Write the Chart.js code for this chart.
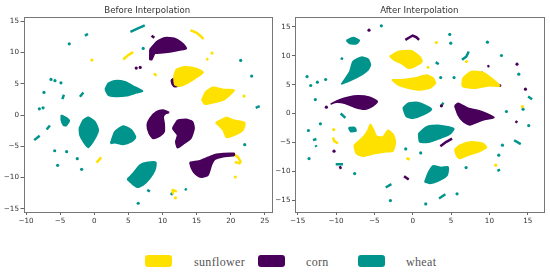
<!DOCTYPE html>
<html>
<head>
<meta charset="utf-8">
<script src="https://cdn.jsdelivr.net/npm/chart.js@4"></script>
<style>
html,body{margin:0;padding:0;background:#fff;width:550px;height:274px;overflow:hidden}
canvas{position:absolute;top:0}
#a{left:0}#b{left:275px}
.sw{position:absolute;top:255px;width:27px;height:12px;border-radius:3px}
.lb{position:absolute;top:254px;font:12px/16px "Liberation Serif",serif;letter-spacing:.35px;color:#555}
</style>
</head>
<body>
<div style="position:absolute;left:0;top:0;width:275px;height:232px"><canvas id="a" width="275" height="232"></canvas></div>
<div style="position:absolute;left:275px;top:0;width:275px;height:232px"><canvas id="c" width="275" height="232"></canvas></div>
<div id="legend"></div>
<script>
const classNames = ["sunflower", "corn", "wheat"];
const classColors = ["#ffe100", "#48005a", "#00948c"];
const legendBoxX = [145, 258, 358];
const legendTextX = [194, 306, 406];

const beforeXTicks = [-10, -5, 0, 5, 10, 15, 20, 25];
const beforeYTicks = [-15, -10, -5, 0, 5, 10, 15];
const afterXTicks = [-15, -10, -5, 0, 5, 10, 15];
const afterYTicks = [-15, -10, -5, 0, 5, 10, 15];

/* ---------- Before interpolation: filled clusters (outlines) ---------- */
const beforeSunflowerShapes = [
 [[11.66,6.24],[12.05,7.3],[13.27,7.73],[14.98,7.47],[15.95,6.83],[14.98,6.03],[13.76,5.17],[12.54,4.64],[11.8,4.9]],
 [[15.76,2.4],[16.34,3.73],[17.41,4.43],[18.88,4.1],[20.49,4.0],[19.85,3.2],[18.88,2.4],[17.41,1.97],[16.2,1.76]],
 [[17.8,-1.22],[19.37,-0.37],[20.34,-0.8],[22.05,-1.22],[21.8,-2.39],[20.59,-3.19],[19.37,-3.56],[18.88,-2.39]]
];
const beforeCornShapes = [
 [[8.15,10.5],[9.12,11.73],[10.34,12.37],[11.8,12.27],[12.93,11.47],[13.5,10.67],[12.54,10.4],[11.3,10.13],[10.1,9.97],[8.88,9.87],[8.44,8.9],[8.15,8.9],[8.15,9.87]],
 [[11.27,5.6],[11.66,5.87],[12.05,5.07],[12.54,4.75],[11.8,4.53],[11.41,4.96]],
 [[10.98,0.43],[10.1,0.8],[9.12,0.53],[8.15,-0.53],[7.76,-1.6],[8.05,-2.93],[8.63,-3.72],[9.61,-3.35],[10.24,-2.66],[10.24,-1.33],[10.1,-0.27],[10.49,0.27]],
 [[12.2,-0.8],[13.41,-0.69],[14.39,-1.06],[14.63,-2.13],[14.15,-3.72],[13.17,-4.52],[12.2,-5.2],[11.95,-4.25],[12.2,-3.19],[11.51,-2.13]],
 [[14.0,-7.55],[15.46,-7.29],[16.68,-6.76],[17.9,-6.28],[20.49,-6.12],[20.49,-6.44],[18.88,-6.65],[17.66,-7.07],[17.17,-7.98],[16.68,-9.57],[15.7,-9.95],[14.73,-9.31],[14.24,-8.5]]
];
const beforeWheatShapes = [
 [[1.6,4.1],[2.05,5.07],[3.02,5.5],[4.5,5.33],[5.7,4.64],[7.07,3.84],[6.2,3.57],[4.73,3.09],[3.02,2.99],[2.05,3.2]],
 [[4.83,-10.27],[5.7,-9.3],[6.68,-8.0],[7.66,-7.6],[9.02,-7.55],[8.88,-8.78],[8.15,-10.1],[7.17,-11.17],[6.29,-11.54],[5.46,-10.9]],
 [[2.39,-4.52],[3.02,-2.66],[4.24,-1.76],[5.46,-2.39],[6.05,-3.56],[5.46,-4.25],[4.24,-4.68],[3.02,-4.41]],
 [[-2.2,-2.13],[-1.6,-0.8],[-0.88,-0.37],[0.1,-1.06],[0.59,-2.39],[0.1,-3.72],[-0.88,-5.16],[-1.6,-4.25],[-2.1,-3.19]],
 [[-4.83,0],[-4.15,-0.37],[-3.66,-0.9],[-4.15,-1.7],[-4.54,-1.6],[-4.83,-0.8]]
];
/* thin elongated clusters */
const beforeSunflowerStreaks = [
 [[14.1,13.6],[15.0,13.17],[15.7,12.53],[16.0,12.16]],
 [[4.24,8.9],[4.98,9.6],[5.7,10.08]],
 [[16.44,9.07],[16.68,8.8]],
 [[8.73,6.67],[9.12,6.3]],
 [[0.34,-7.6],[1.02,-6.76]],
 [[20.49,-6.28],[21.07,-6.76],[21.45,-7.45],[21.3,-7.7],[20.6,-7.5]],
 [[11.4,-12.5],[11.5,-11.97],[12.1,-12.25]]
];
const beforeCornStreaks = [
 [[8.4,12.7],[8.8,12.37]]
];
const beforeWheatStreaks = [
 [[5.3,13.33],[6.4,13.87],[7.4,14.35]],
 [[-1.37,12.7],[-0.93,13.0]],
 [[-4.68,2.56],[-4.44,3.25]],
 [[-2.1,2.93],[-1.6,3.63]],
 [[23.66,1.17],[24.24,1.44]],
 [[-6.98,-2.29],[-6.5,-1.65]],
 [[-8.8,-4.0],[-8.0,-3.3]],
 [[7.76,-11.97],[8.15,-12.23]],
 [[13.27,-11.8],[13.56,-11.97]]
];
/* single points */
const beforeSunflowerDots = [[-0.34,8.8],[17.27,9.92],[21.95,3.04],[20.68,-9.9],[11.9,-13.24]];
const beforeCornDots = [[6.15,7.52],[6.73,7.63],[11.9,5.76],[12.54,5.6],[12.93,5.81]];
const beforeWheatDots = [[-3.66,11.41],[7.17,10.67],[21.46,8.75],[23.07,6.24],[-6.34,5.7],[-5.76,5.5],[-4.88,5.17],[-7.37,3.63],[-8.05,1.0],[-7.5,1.17],[-5.8,-5.7],[-4.05,-5.85],[-2.49,-6.97],[-5.37,-8.03],[-1.85,-8.67],[22.05,-4.73],[11.37,-12.6],[6.44,-14.1]];

/* ---------- After interpolation ---------- */
const afterSunflowerShapes = [
 [[-3.0,9.87],[-1.91,10.73],[-0.17,10.85],[0.91,9.87],[1.22,9.0],[0.26,8.14],[-0.6,7.85],[-1.48,8.71],[-2.35,9.17]],
 [[-2.7,5.83],[-1.48,5.83],[0.26,6.12],[1.78,6.64],[2.65,6.12],[2.96,5.25],[2.22,4.39],[0.7,4.1],[-1.04,4.56],[-1.91,4.96]],
 [[6.43,4.79],[6.57,6.12],[7.65,7.27],[9.17,7.1],[10.26,6.12],[11.35,4.79],[9.83,4.79],[8.09,4.39],[6.78,4.56]],
 [[-7.65,-5.48],[-6.91,-4.62],[-6.26,-3.75],[-5.83,-2.89],[-5.52,-1.85],[-5.09,-2.89],[-4.74,-3.92],[-3.87,-4.04],[-3.22,-2.89],[-2.57,-3.58],[-2.26,-4.9],[-2.57,-6.46],[-3.65,-6.64],[-4.96,-6.92],[-6.48,-7.39],[-7.35,-6.92]],
 [[5.48,-6.23],[6.13,-5.48],[7.65,-4.9],[9.17,-5.19],[9.61,-5.89],[8.52,-6.64],[7.22,-7.21],[6.13,-7.79],[5.7,-7.21]]
];
const afterCornShapes = [
 [[-10.7,1.62],[-9.52,2.37],[-8.43,2.83],[-7.13,3.06],[-5.61,2.83],[-4.61,2.08],[-5.17,1.33],[-6.26,0.75],[-7.57,1.1],[-8.87,1.79],[-9.96,1.96]],
 [[5.48,1.33],[5.91,1.79],[7.22,0.92],[8.96,0.35],[10.6,-0.69],[9.17,-1.1],[7.43,-1.96],[6.57,-1.38],[5.91,-0.23]]
];
const afterWheatShapes = [
 [[-8.65,12.64],[-7.78,13.16],[-6.96,12.64],[-7.35,12.06],[-8.22,12.12]],
 [[-9.3,5.08],[-8.2,7.27],[-7.78,9.0],[-6.7,9.75],[-5.83,9.4],[-5.52,8.42],[-5.83,7.56],[-6.91,6.52],[-8.22,5.65]],
 [[-1.26,0.92],[-0.6,1.79],[0.7,1.9],[2.43,0.75],[1.35,-0.23],[0.04,-0.81],[-0.83,-0.52]],
 [[0.78,-3.46],[1.78,-2.31],[3.3,-2.02],[5.35,-2.6],[4.83,-3.58],[3.52,-4.33],[2.22,-4.9],[0.91,-4.9]],
 [[1.57,-11.83],[2.09,-10.1],[2.65,-9.06],[3.74,-9.35],[4.61,-9.23],[4.48,-10.67],[3.3,-11.66],[2.22,-12.1]],
 [[-8.35,-2.42],[-7.57,-2.42],[-7.39,-3.0],[-8.09,-3.12]]
];
const afterSunflowerStreaks = [
 [[-10.39,-4.15],[-10.26,-4.73],[-9.74,-5.19]],
 [[-0.83,-7.73],[-0.39,-7.96]],
 [[1.83,8.02],[2.17,7.96]]
];
const afterCornStreaks = [
 [[-0.96,12.75],[-0.39,13.2],[0,13.5],[0.48,13.2],[0.83,12.75]],
 [[3.6,-5.65],[4.39,-4.9],[5.13,-4.33]],
 [[-9.52,-9.12],[-9.35,-9.58]],
 [[-1.13,-10.85],[-0.52,-11.43]],
 [[9.74,8.14],[10,8.25]],
 [[13.39,-1.33],[13.65,-1.56]]
];
const afterWheatStreaks = [
 [[-9.39,0],[-8.78,-0.75]],
 [[-13,-4.6],[-12.56,-4.4]],
 [[-12.65,-5.5],[-12.56,-5.77]],
 [[-10.04,-8.77],[-9.09,-8.77]],
 [[-3.52,-12.8],[-2.78,-12.23]],
 [[3.43,-14.7],[4.26,-13.96]],
 [[13.22,-4.62],[14.09,-5.3]],
 [[11.04,-9.92],[11.39,-9.7]],
 [[3.74,1.33],[4.0,1.9]],
 [[15.04,2.94],[15.57,2.48]],
 [[6.43,9.29],[7.0,9.87],[7.3,10.73]],
 [[3.0,8.89],[3.39,8.54]],
 [[-9.39,9.58],[-9.09,9.4]]
];
const afterSunflowerDots = [[3.09,12.29],[7.0,9.0],[14.3,1.21],[-10.3,-2.77],[10.83,-8.94]];
const afterCornDots = [[-5.7,14.43],[13.6,8.54],[14.7,4.21],[-11.26,1.1],[-10.26,-6.52],[9.04,6.98],[8.83,6.52],[9.48,5.71],[11.35,4.85],[3.74,1.33]];
const afterWheatDots = [[-4.09,15.18],[4.83,13.68],[4.96,12.18],[9.74,12.35],[11.57,10.04],[13.83,6.81],[-13.78,6.4],[-13.3,4.85],[-12.43,5.42],[-11.35,5.89],[-12.7,2.42],[3.65,6.23],[5.39,6.23],[12.22,0.35],[14.39,0.75],[8.87,-1.04],[-12.04,-1.79],[-13.6,-2.94],[15.13,-2.08],[-13.52,-7.79],[-7.57,-10.39],[-2.91,-15.06],[1.7,-15.64],[5.78,-13.9],[-0.91,-6.12],[1.04,-6.81],[6.96,-9.35],[11.7,-5.48],[11.22,-7.21]];

const toXY = p => ({x: p[0], y: p[1]});
function shapeSet(pts, color){
  return {type:'scatter', data:pts.concat([pts[0]]).map(toXY), showLine:true, fill:'shape', tension:0.2,
    backgroundColor:color, borderColor:color, borderWidth:1.6, borderJoinStyle:'round', pointRadius:0};
}
function streakSet(pts, color){
  return {type:'scatter', data:pts.map(toXY), showLine:true, fill:false, tension:0,
    borderColor:color, borderWidth:2.5, borderJoinStyle:'round', borderCapStyle:'butt', pointRadius:0};
}
function dotSet(pts, color){
  return {type:'scatter', data:pts.map(toXY), showLine:false, pointRadius:1.6, borderWidth:0,
    backgroundColor:color};
}
const frame = {id:'frame', afterDraw(chart){
  const a = chart.chartArea, c = chart.ctx;
  c.save(); c.strokeStyle='#777'; c.lineWidth=1;
  c.strokeRect(Math.round(a.left)+.5, Math.round(a.top)+.5, Math.round(a.right-a.left), Math.round(a.bottom-a.top));
  c.restore();
}};
const minus = v => String(v).replace('-', '\u2212');
function axis(ticks, min, max, opts){
  return Object.assign({
    type:'linear', min, max,
    afterBuildTicks: s => { s.ticks = ticks.map(v => ({value:v})); },
    grid:{display:true, drawOnChartArea:false, drawTicks:true, tickLength:3, color:'#666'},
    border:{display:false},
    ticks:{autoSkip:false, maxRotation:0, padding:1.5, color:'#333', font:{family:'"DejaVu Sans"', size:7.2}, callback:v=>minus(v)}
  }, opts);
}
function panel(id, title, sets, xT, yT, xR, yR, leftW, rightPad){
  const datasets = [];
  sets.forEach((s,i)=>{
    s.shapes.forEach(p=>datasets.push(shapeSet(p, classColors[i])));
  });
  sets.forEach((s,i)=>{
    s.streaks.forEach(p=>datasets.push(streakSet(p, classColors[i])));
    datasets.push(dotSet(s.dots, classColors[i]));
  });
  new Chart(document.getElementById(id), {
    type:'scatter',
    data:{datasets},
    plugins:[frame],
    options:{
      responsive:false, animation:false,
      layout:{padding:{left:0,right:rightPad,top:0,bottom:0}},
      plugins:{
        legend:{display:false}, tooltip:{enabled:false},
        title:{display:true, text:title, fullSize:false, color:'#333',
          font:{family:'"DejaVu Sans"', size:8.6, weight:'normal'}, padding:{top:5.8,bottom:0.9}}
      },
      scales:{
        x:axis(xT, xR[0], xR[1], {afterFit:s=>{s.height=20;}}),
        y:axis(yT, yR[0], yR[1], {afterFit:s=>{s.width=leftW;}})
      }
    }
  });
}
panel('a','Before Interpolation',[
  {shapes:beforeSunflowerShapes, streaks:beforeSunflowerStreaks, dots:beforeSunflowerDots},
  {shapes:beforeCornShapes, streaks:beforeCornStreaks, dots:beforeCornDots},
  {shapes:beforeWheatShapes, streaks:beforeWheatStreaks, dots:beforeWheatDots}
], beforeXTicks, beforeYTicks, [-10.37,25.9], [-15.5,15.69], 23.5, 3.5);
panel('c','After Interpolation',[
  {shapes:afterSunflowerShapes, streaks:afterSunflowerStreaks, dots:afterSunflowerDots},
  {shapes:afterCornShapes, streaks:afterCornStreaks, dots:afterCornDots},
  {shapes:afterWheatShapes, streaks:afterWheatStreaks, dots:afterWheatDots}
], afterXTicks, afterYTicks, [-15.35,17.08], [-17.04,16.7], 20, 6.3);

const lg = document.getElementById('legend');
classNames.forEach((n,i)=>{
  const b=document.createElement('div'); b.className='sw'; b.style.left=legendBoxX[i]+'px'; b.style.background=classColors[i]; lg.appendChild(b);
  const t=document.createElement('div'); t.className='lb'; t.style.left=legendTextX[i]+'px'; t.textContent=n; lg.appendChild(t);
});
</script>
</body>
</html>
